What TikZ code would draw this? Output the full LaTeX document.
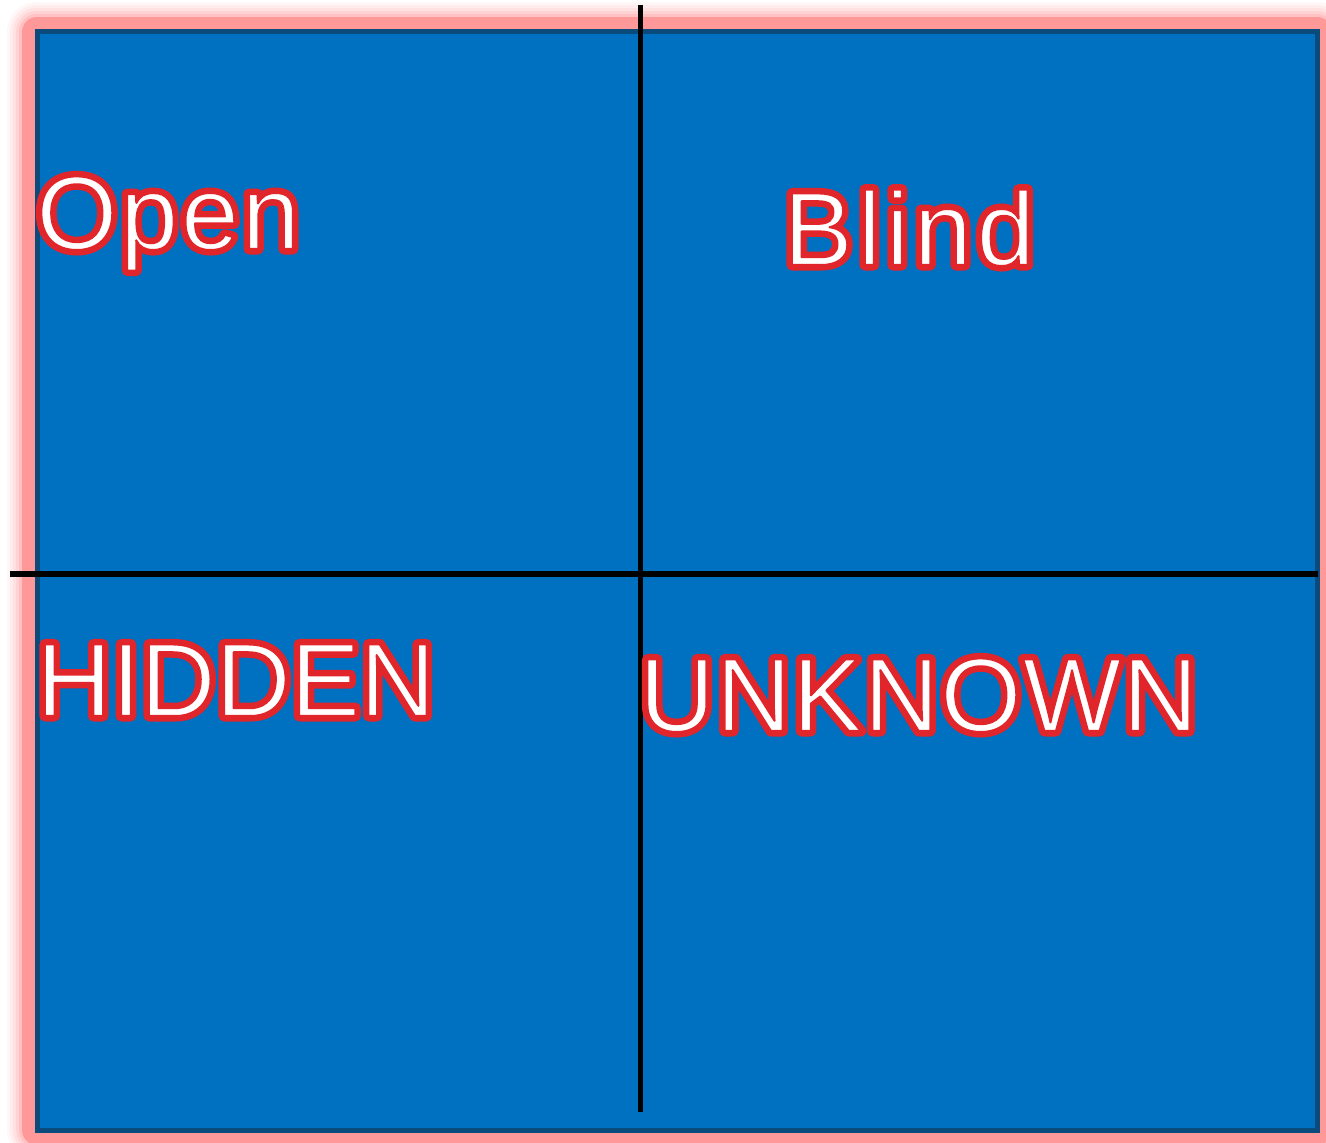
\documentclass[tikz,border=0pt]{standalone}
\usepackage{fontspec}
\setmainfont{Liberation Sans}
\usetikzlibrary{positioning}
\definecolor{boxblue}{HTML}{0070C0}
\definecolor{boxedge}{HTML}{0A4B7C}
\definecolor{glowpink}{HTML}{FF9999}
% red rim round white letters: a wide stroke behind, a thin one on top
\newcommand{\rimtext}[1]{%
  \makebox[0pt][l]{\special{pdf:literal direct 1 Tr 1 j 5.5 w 0.88 0.15 0.17 RG}#1\special{pdf:literal direct 0 Tr}}%
  \special{pdf:literal direct 2 Tr 1 j 1 w 0.88 0.15 0.17 RG}#1\special{pdf:literal direct 0 Tr}}

\begin{document}
\begin{tikzpicture}[x=0.5pt, y=-0.5pt,
    quad/.style={anchor=base west, inner sep=0pt, text=white, font=\fontsize{52}{60}\selectfont}]
    \useasboundingbox (0,0) rectangle (1326,1143);
    % soft pink glow round the window
    \foreach \w/\o in {30pt/0.08, 27pt/0.1, 24pt/0.14, 21pt/0.2, 18pt/0.3, 15pt/1}
        \draw[glowpink, line width=\w, opacity=\o, line join=round] (37,32) rectangle (1317,1130);
    \draw[boxedge, fill=boxblue, line width=2.5pt] (37,32) rectangle (1317,1130);
    % the two dividing lines
    \coordinate (vtop) at (640,5);
    \coordinate (vbot) at (640,1112);
    \coordinate (hleft) at (10,574);
    \coordinate (hright) at (1318,574);
    \draw[black, line width=2.5pt] (vtop) -- (vbot);
    \draw[black, line width=2.5pt] (hleft) -- (hright);
    % quadrant labels
    \node[quad] (open) at (36,249) {\rimtext{O\kern1.5pt p\kern1.5pt e\kern1.5pt n}};
    \node[quad] (blind) at (783,265) {\rimtext{B\kern2.5pt l\kern2.5pt i\kern2.5pt n\kern2.5pt d}};
    \node[quad] (hidden) at (36,716) {\rimtext{HIDDEN}};
    \node[quad] (unknown) at (639,731) {\rimtext{U\kern0.8pt N\kern0.8pt K\kern0.8pt N\kern0.8pt O\kern0.8pt W\kern0.8pt N}};
\end{tikzpicture}
\end{document}
